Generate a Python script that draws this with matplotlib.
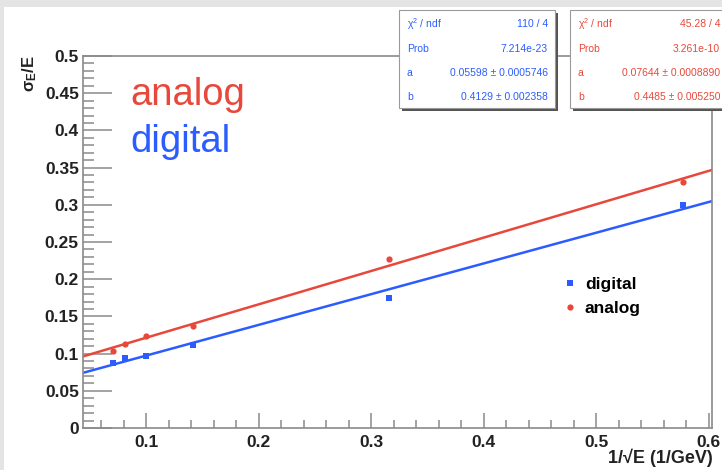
import matplotlib
matplotlib.use("Agg")
import matplotlib.pyplot as plt
import numpy as np
from matplotlib.patches import Rectangle

plt.rcParams['font.family'] = ['Liberation Sans', 'DejaVu Sans']
plt.rcParams['mathtext.fontset'] = 'custom'
plt.rcParams['mathtext.rm'] = 'Liberation Sans'
plt.rcParams['mathtext.it'] = 'Liberation Sans'
plt.rcParams['mathtext.bf'] = 'Liberation Sans:bold'

# beam energies 200, 150, 100, 50, 10, 3 GeV -> 1/sqrt(E)
inv_sqrt_e = [0.0707, 0.0816, 0.1, 0.1414, 0.3162, 0.5774]
digital_res = [0.088, 0.094, 0.097, 0.1115, 0.175, 0.300]
analog_res = [0.104, 0.113, 0.1237, 0.1375, 0.227, 0.330]

# fit results  sigma/E = a + b/sqrt(E)
digital_fit = (0.05598, 0.4129)
analog_fit = (0.07644, 0.4485)
digital_stats = [("\u03c7$^2$ / ndf", "110 / 4"), ("Prob", "7.214e-23"),
                 ("a", "0.05598 \u00b1 0.0005746"), ("b", "0.4129 \u00b1 0.002358")]
analog_stats = [("\u03c7$^2$ / ndf", "45.28 / 4"), ("Prob", "3.261e-10"),
                ("a", "0.07644 \u00b1 0.0008890"), ("b", "0.4485 \u00b1 0.005250")]

RED = '#e8483b'
BLUE = '#2b5cff'
TXT = '#222222'
W, H = 722, 470

fig = plt.figure(figsize=(W / 100, H / 100), dpi=100)
fig.patch.set_facecolor('#e4e4e4')
fig.patches.append(Rectangle((4 / W, 0), 1, 1 - 7 / H, transform=fig.transFigure,
                             facecolor='white', edgecolor='none', zorder=-10))

ax = fig.add_axes([83 / W, 1 - 428 / H, (712 - 83) / W, (428 - 56) / H])
ax.set_facecolor('white')
xmin, xmax = 0.044, 0.603
ax.set_xlim(xmin, xmax)
ax.set_ylim(0, 0.5)

xs = np.array([xmin, xmax])
ax.plot(xs, digital_fit[0] + digital_fit[1] * xs, color=BLUE, lw=1.8, zorder=2)
ax.plot(xs, analog_fit[0] + analog_fit[1] * xs, color=RED, lw=1.8, zorder=2)
ax.plot(inv_sqrt_e, digital_res, 's', color=BLUE, ms=5, mew=0, zorder=3, label='digital')
ax.plot(inv_sqrt_e, analog_res, 'o', color=RED, ms=4.5, mew=0, zorder=3, label='analog')

for sp in ax.spines.values():
    sp.set_color('#8a8a8a')
    sp.set_linewidth(1.2)

ax.set_xticks(np.arange(0.1, 0.61, 0.1))
ax.set_xticks(np.arange(0.06, 0.601, 0.02), minor=True)
ax.set_yticks(np.arange(0, 0.501, 0.05))
ax.set_yticks(np.arange(0, 0.501, 0.01), minor=True)
ax.set_xticklabels(['0.1', '0.2', '0.3', '0.4', '0.5', '0.6'])
ax.set_yticklabels(['0', '0.05', '0.1', '0.15', '0.2', '0.25', '0.3', '0.35', '0.4', '0.45', '0.5'])
ax.tick_params(axis='both', which='both', direction='in', color='#8a8a8a', width=1.1,
               labelsize=12.5, top=False, right=False)
ax.tick_params(axis='y', which='major', length=21, pad=3)
ax.tick_params(axis='y', which='minor', length=8)
ax.tick_params(axis='x', which='major', length=11, pad=5)
ax.tick_params(axis='x', which='minor', length=6)
for lab in ax.get_xticklabels() + ax.get_yticklabels():
    lab.set_fontweight('bold')
    lab.set_color(TXT)

fig.text(30 / W, 1 - 55 / H, r'$\mathbf{\sigma_E}$/E', rotation=90, ha='center', va='top',
         fontsize=12, fontweight='bold', color=TXT)
fig.text(713 / W, 1 - 458 / H, '1/\u221aE (1/GeV)', ha='right', va='center',
         fontsize=13, fontweight='bold', color=TXT)

fig.text(130 / W, 1 - 105 / H, 'analog', color=RED, fontsize=27.5, va='baseline')
fig.text(130 / W, 1 - 152 / H, 'digital', color=BLUE, fontsize=27.5, va='baseline')

ax.legend(loc='upper left', bbox_to_anchor=(0.766, 0.406), frameon=False,
          prop={'weight': 'bold', 'size': 12.5}, handlelength=0.6, handletextpad=0.56,
          labelspacing=0.5, borderpad=0, borderaxespad=0)

# fit statistics boxes
def stat_box(x0, x1, y0, y1, rows, color):
    fig.patches.append(Rectangle((x0 / W + 3 / W, 1 - (y1 + 3) / H), (x1 - x0) / W, (y1 - y0) / H,
                                 transform=fig.transFigure, facecolor='#555555',
                                 edgecolor='none', zorder=5))
    fig.patches.append(Rectangle((x0 / W, 1 - y1 / H), (x1 - x0) / W, (y1 - y0) / H,
                                 transform=fig.transFigure, facecolor='white',
                                 edgecolor='#9a9a9a', lw=0.8, zorder=6))
    for i, (name, val) in enumerate(rows):
        yy = 1 - (24 + 24.5 * i) / H
        fig.text((x0 + 8) / W, yy, name, color=color, fontsize=7.5, va='center', zorder=7)
        fig.text((x1 - 7) / W, yy, val, color=color, fontsize=7.5, va='center', ha='right', zorder=7)

stat_box(399, 555, 10, 108, digital_stats, BLUE)
stat_box(570, 727, 10, 108, analog_stats, RED)

fig.savefig('out.png', dpi=100, facecolor=fig.get_facecolor())
